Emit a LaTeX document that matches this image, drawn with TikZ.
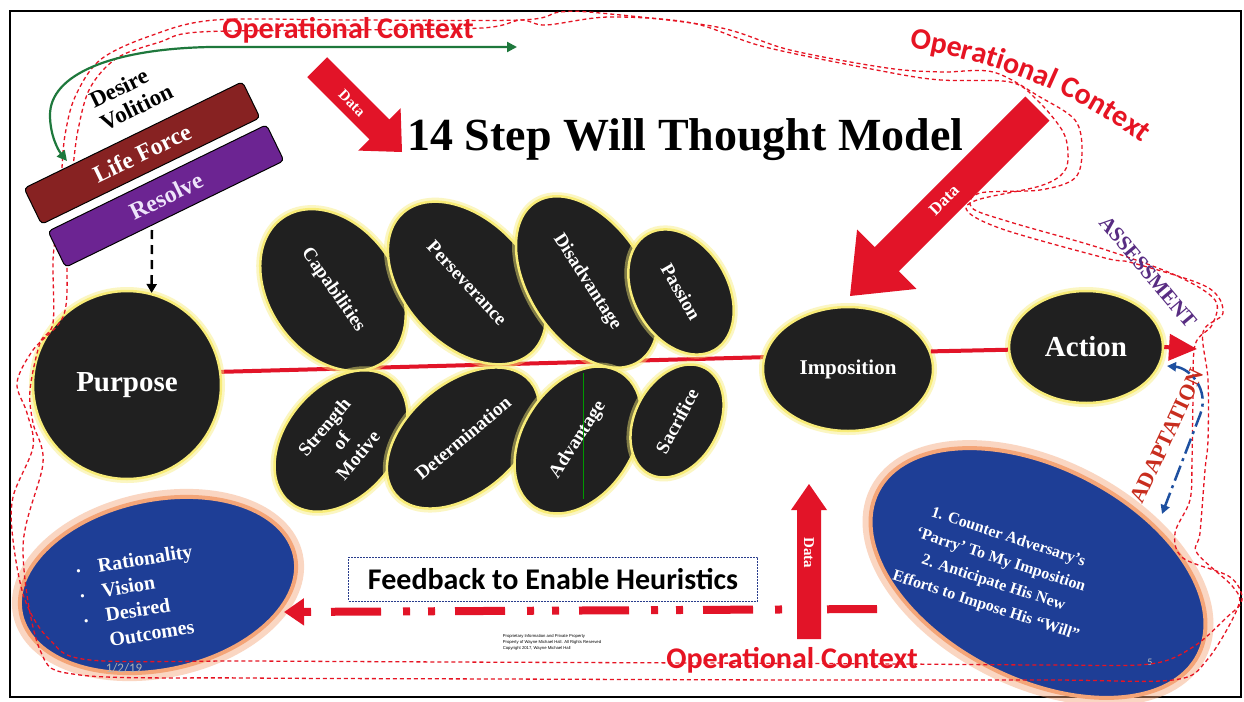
\documentclass[tikz,border=0pt]{standalone}
\usepackage{fontspec}
\setmainfont{Liberation Serif}
\newfontfamily\carl{Carlito}
\newfontfamily\lsans{Liberation Sans}
\usetikzlibrary{shapes.geometric,arrows.meta,decorations.text}
\definecolor{datared}{RGB}{226,20,40}
\definecolor{ocred}{RGB}{230,20,35}
\definecolor{blobfill}{RGB}{32,32,32}
\definecolor{glow}{RGB}{248,236,120}
\definecolor{lifered}{RGB}{135,34,34}
\definecolor{resolvepurple}{RGB}{108,36,146}
\definecolor{deepblue}{RGB}{30,62,150}
\definecolor{salmon}{RGB}{244,165,120}
\definecolor{assesspurple}{RGB}{88,44,130}
\definecolor{adaptred}{RGB}{200,45,30}
\definecolor{loopblue}{RGB}{30,80,160}
\definecolor{arrowgreen}{RGB}{30,120,60}
\definecolor{navyline}{RGB}{40,60,140}
\begin{document}
\begin{tikzpicture}[x=1pt,y=-1pt,
  blob/.style={ellipse, fill=blobfill, draw=glow, line width=2.5pt, inner sep=0pt,
    text=white, align=center, font=\bfseries\fontsize{19}{20}\selectfont,
    preaction={draw=glow, line width=8pt, draw opacity=0.45}},
  bluebox/.style={ellipse, fill=deepblue, draw=salmon, line width=4pt, inner sep=0pt,
    preaction={draw=salmon, line width=16pt, draw opacity=0.45}},
  forcebar/.style={rectangle, rounded corners=4pt, draw=black, line width=1pt,
    minimum width=243pt, minimum height=40pt, rotate=26, text=white,
    font=\bfseries\fontsize{24}{26}\selectfont},
  datatext/.style={text=white, inner sep=0pt, font=\bfseries\fontsize{15}{17}\selectfont},
  octext/.style={text=ocred, inner sep=0pt, font=\carl\bfseries\fontsize{30}{32}\selectfont},
  ctxloop/.style={ocred, line width=1.3pt, dash pattern=on 4pt off 3pt},
  redline/.style={datared, line width=4pt}]
\useasboundingbox (0,0) rectangle (1244,701);
\fill[white] (0,0) rectangle (1244,701);
\draw[black, line width=2pt] (10,11) rectangle (1241,697);

% title
\node[anchor=base west, inner sep=0pt, font=\bfseries\fontsize{46}{50}\selectfont] (title) at (407,150) {14 Step Will Thought Model};

% main red axis (behind the ellipses)
\coordinate (pl) at (215,372);
\coordinate (pr) at (770,357);
\draw[redline] (pl) -- (pr);

% purpose
\node[blob, minimum width=188pt, minimum height=188pt, font=\bfseries\fontsize{29}{31}\selectfont] (purpose) at (127,385) {Purpose};

% upper row
\node[blob, minimum width=176pt, minimum height=128pt, rotate=-55] (capabilities) at (333,290) {Capabilities};
\node[blob, minimum width=190pt, minimum height=124pt, rotate=-47] (perseverance) at (467,283) {Perseverance};
\node[blob, minimum width=190pt, minimum height=116pt, rotate=-57] (disadvantage) at (587,282) {Disadvantage};
\node[blob, minimum width=134pt, minimum height=94pt, rotate=-60] (passion) at (681,292) {Passion};
% lower row
\node[blob, minimum width=160pt, minimum height=110pt, rotate=50, font=\bfseries\fontsize{19}{22}\selectfont] (strength) at (341,441) {Strength\\of\\Motive};
\node[blob, minimum width=176pt, minimum height=110pt, rotate=40] (determination) at (463,438) {Determination};
\node[blob, minimum width=160pt, minimum height=110pt, rotate=57] (advantage) at (578,440) {Advantage};
\coordinate (gl1) at (583,373);
\coordinate (gl2) at (583,499);
\draw[green!60!black, line width=0.8pt] (gl1) -- (gl2);
\node[blob, minimum width=120pt, minimum height=84pt, rotate=62] (sacrifice) at (677,421) {Sacrifice};
% imposition and action
\node[blob, minimum width=170pt, minimum height=124pt, font=\bfseries\fontsize{21}{23}\selectfont] (imposition) at (848,369) {Imposition};
\node[blob, minimum width=154pt, minimum height=112pt, font=\bfseries\fontsize{29}{31}\selectfont] (action) at (1086,347) {Action};
\draw[redline] (imposition.12) -- (action.182);
\coordinate (acttip) at (1197,349);
\draw[redline, -{Triangle[length=28pt,width=26pt]}] (action.east) -- (acttip);

% blue ellipses
\node[bluebox, minimum width=280pt, minimum height=170pt, rotate=12] (goals) at (158,585) {};
\node[text=white, rotate=9, align=left, inner sep=0pt, font=\bfseries\fontsize{20}{25}\selectfont] (goalstext) at (140,597)
  {\makebox[22pt][l]{\fontsize{12}{12}\selectfont •}Rationality\\
   \makebox[22pt][l]{\fontsize{12}{12}\selectfont •}Vision\\
   \makebox[22pt][l]{\fontsize{12}{12}\selectfont •}Desired\\
   \makebox[22pt][l]{}Outcomes};
\node[bluebox, minimum width=360pt, minimum height=212pt, rotate=-27] (counter) at (1038,573) {};
\node[text=white, rotate=-18, align=center, inner sep=0pt, font=\bfseries\fontsize{16}{24}\selectfont] (countertext) at (997,572)
  {1. Counter Adversary’s\\‘Parry’ To My Imposition\\2. Anticipate His New\\Efforts to Impose His “Will”};

% small texts
\node[text=gray!60, inner sep=0pt, font=\carl\fontsize{13}{14}\selectfont] (date) at (124,668) {1/2/19};
\node[text=gray!50, inner sep=0pt, font=\carl\fontsize{10}{11}\selectfont] (pagenum) at (1150,662) {5};
\node[inner sep=0pt, align=left, font=\lsans\fontsize{4.2}{6}\selectfont] (copyright) at (552,642)
  {Proprietary Information and Private Property\\Property of Wayne Michael Hall. All Rights Reserved\\Copyright 2017, Wayne Michael Hall};

% operational context loops
\draw[ctxloop] plot[smooth, tension=0.55] coordinates {
 (62,168) (65,135) (75,97) (100,60) (150,36) (215,20) (350,20) (521,20) (560,12) (600,13)
 (717,27) (790,50) (887,68) (941,72) (993,72) (1040,97) (1075,120) (1082,150) (1075,178)
 (1040,190) (980,193) (972,208) (1010,222) (1100,248) (1175,275) (1215,300) (1212,325)
 (1195,345) (1193,400) (1192,460) (1190,500) (1175,533) (1183,558) (1230,577) (1242,600)
 (1226,618) (1193,647) (1150,664) (1050,665) (900,664) (700,663) (450,662) (250,661)
 (90,660) (50,640) (25,600) (13,540) (13,497) (33,447) (27,413) (17,383) (33,350)
 (63,317) (67,270) (63,228)};
\draw[ctxloop] plot[smooth, tension=0.55] coordinates {
 (73,168) (78,130) (90,88) (117,58) (160,42) (200,32) (350,30) (482,28) (521,20) (546,25)
 (609,17) (692,23) (765,47) (887,72) (941,80) (1010,82) (1037,100) (1062,130) (1068,152)
 (1064,172) (1040,186) (977,200) (968,212) (1005,230) (1105,258) (1133,263) (1207,287)
 (1223,313) (1203,332) (1208,380) (1208,440) (1205,470) (1200,533) (1197,553) (1233,587)
 (1238,607) (1207,660) (1173,680) (1050,680) (800,680) (500,679) (250,678) (80,675)
 (40,650) (23,547) (43,463) (33,423) (30,390) (40,343) (53,323) (53,260) (57,228)};

% bars
\node[forcebar, fill=lifered] (lifeforce) at (142,153) {Life Force};
\node[forcebar, fill=resolvepurple, text={rgb,255:red,238;green,228;blue,250}] (resolve) at (166,196) {Resolve};
\node[rotate=26, align=left, inner sep=0pt, font=\bfseries\fontsize{23}{25}\selectfont] (desire) at (131,96) {Desire\\Volition};

% green arrow
\coordinate (ga) at (67,161);
\coordinate (gb) at (517,47);
\draw[arrowgreen, line width=2.2pt, {Triangle[length=10pt,width=10pt]}-{Triangle[length=10pt,width=10pt]}]
  (gb) -- (210,47) .. controls (110,49) and (50,75) .. (50,115) .. controls (50,135) and (58,150) .. (ga);

% dashed black arrow
\coordinate (rsb) at (152,230);
\draw[black, line width=2.5pt, dash pattern=on 9pt off 6pt, -{Triangle[length=9pt,width=10pt]}] (rsb) -- (purpose.75);

% Data arrows
\begin{scope}[shift={(402,152)}, rotate=-45]
\fill[datared] (0,0) -- (-32,30) -- (-32,14) -- (-120,14) -- (-120,-14) -- (-32,-14) -- (-32,-30) -- cycle;
\end{scope}
\node[datatext, rotate=-45] (data1) at (352,103) {Data};
\begin{scope}[shift={(850,296)}, rotate=225]
\fill[datared] (0,0) -- (-52,42) -- (-52,17) -- (-265,17) -- (-265,-17) -- (-52,-17) -- (-52,-42) -- cycle;
\end{scope}
\node[datatext, rotate=45, font=\bfseries\fontsize{17}{19}\selectfont] (data2) at (944,200) {Data};
\begin{scope}[shift={(809,484)}, rotate=90]
\fill[datared] (0,0) -- (-26,18) -- (-26,12) -- (-155,12) -- (-155,-12) -- (-26,-12) -- (-26,-18) -- cycle;
\end{scope}
\node[datatext, rotate=-90] (data3) at (809,553) {Data};

% feedback
\coordinate (fbs) at (877,609);
\coordinate (fbe) at (284,612);
\draw[datared, line width=8pt, dash pattern=on 50pt off 20pt on 7pt off 18pt on 7pt off 22pt,
  -{Triangle[length=20pt,width=26pt]}] (fbs) -- (fbe);
\node[draw=navyline, line width=0.8pt, dash pattern=on 2pt off 1pt, fill=white, minimum width=409pt, minimum height=44pt,
  inner sep=0pt, font=\carl\bfseries\fontsize{30}{32}\selectfont] (feedback) at (553,579) {Feedback to Enable Heuristics};

% operational context labels
\node[octext, anchor=base] (octop) at (348,39) {Operational Context};
\node[octext, anchor=base] (ocbottom) at (792,668) {Operational Context};
\path[decorate, decoration={text along path, text align=center, text color=ocred,
  text={|\carl\bfseries\fontsize{30}{32}\selectfont|Operational Context}}]
  (903,47) .. controls (995,60) and (1080,95) .. (1147,147);

% assessment / adaptation
\node[text=assesspurple, rotate=-50, inner sep=0pt, font=\bfseries\fontsize{21}{23}\selectfont] (assessment) at (1148,272) {ASSESSMENT};
\node[text=adaptred, rotate=65, inner sep=0pt, font=\bfseries\fontsize{22}{24}\selectfont] (adaptation) at (1167,436) {ADAPTATION};
\coordinate (bl1) at (1167,366);
\coordinate (bl2) at (1162,514);
\draw[loopblue, line width=2.5pt, dash pattern=on 16pt off 5pt on 3pt off 5pt,
  {Triangle[length=9pt,width=9pt]}-{Triangle[length=9pt,width=9pt]}]
  (bl1) .. controls (1190,368) and (1210,390) .. (1200,415) -- (bl2);
\end{tikzpicture}
\end{document}
